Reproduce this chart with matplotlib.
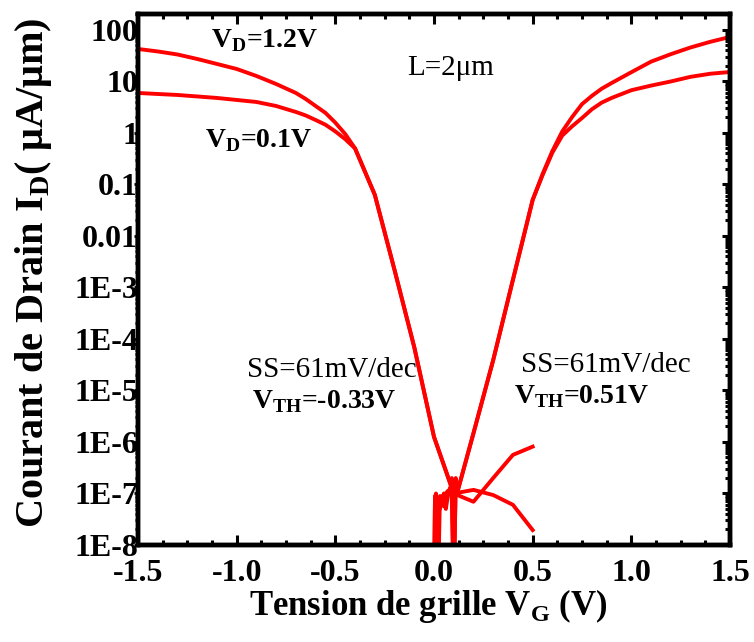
import numpy as np
import matplotlib
matplotlib.use("Agg")
import matplotlib.pyplot as plt
from matplotlib.ticker import FixedLocator, FixedFormatter, LogLocator, MultipleLocator, NullFormatter

# ---------------- data (log10 of drain current, uA/um) ----------------
vg_p = [-1.5, -1.4, -1.3, -1.2, -1.1, -1.0, -0.9, -0.8, -0.7, -0.65, -0.6, -0.55, -0.5, -0.45,
        -0.4, -0.3, -0.2, -0.1, 0.0, 0.1, 0.2, 0.3, 0.4, 0.5]
logid_p_vd12 = [1.631, 1.583, 1.524, 1.437, 1.340, 1.243, 1.107, 0.951, 0.777, 0.66, 0.524, 0.39, 0.20, -0.02,
                -0.30, -1.20, -2.66, -4.16, -5.90, -7.0, -7.16, -6.70, -6.25, -6.09]
logid_p_vd01 = [0.777, 0.757, 0.738, 0.709, 0.680, 0.641, 0.602, 0.524, 0.408, 0.34, 0.252, 0.16, 0.03, -0.12,
                -0.30, -1.20, -2.66, -4.16, -5.90, -7.0, -6.93, -7.03, -7.22, -7.71]

vg_n = [0.0, 0.005, 0.01, 0.02, 0.03, 0.04, 0.05, 0.06, 0.07, 0.08, 0.09, 0.1, 0.11, 0.12,
        0.2, 0.3, 0.4, 0.5, 0.55, 0.6, 0.65, 0.7, 0.75, 0.8, 0.85, 0.9, 1.0, 1.1, 1.2, 1.3, 1.4, 1.5]
logid_n_vd12 = [-9.0, -7.05, -9.0, -7.10, -7.30, -7.05, -7.25, -7.00, -6.95, -7.00, -6.70, -9.0, -6.70, -6.95,
                -5.83, -4.41, -2.85, -1.30, -0.80, -0.35, 0.03, 0.31, 0.56, 0.72, 0.86, 0.97,
                1.18, 1.385, 1.53, 1.66, 1.77, 1.864]
logid_n_vd01 = [-9.0, -7.10, -7.00, -9.0, -7.05, -7.20, -7.00, -7.30, -7.05, -6.90, -7.00, -9.0, -6.80, -6.95,
                -5.83, -4.41, -2.85, -1.30, -0.82, -0.38, -0.05, 0.13, 0.29, 0.46, 0.59, 0.68,
                0.83, 0.92, 1.00, 1.09, 1.15, 1.184]

ytick_vals = [1e-8, 1e-7, 1e-6, 1e-5, 1e-4, 1e-3, 1e-2, 1e-1, 1, 10, 100]
ytick_labels = ["1E-8", "1E-7", "1E-6", "1E-5", "1E-4", "1E-3", "0.01", "0.1", "1", "10", "100"]
xtick_vals = [-1.5, -1.0, -0.5, 0.0, 0.5, 1.0, 1.5]
xtick_labels = ["-1.5", "-1.0", "-0.5", "0.0", "0.5", "1.0", "1.5"]

# ---------------- style ----------------
plt.rcParams["font.family"] = ["Liberation Serif", "DejaVu Serif"]
plt.rcParams["mathtext.fontset"] = "custom"
plt.rcParams["mathtext.rm"] = "Liberation Serif"
plt.rcParams["mathtext.bf"] = "Liberation Serif:bold"

W, H = 754, 642
fig = plt.figure(figsize=(W / 100, H / 100), dpi=100)
L, R, T, B = 138, 730, 14, 545
ax = fig.add_axes([L / W, 1 - B / H, (R - L) / W, (B - T) / H])

red = "#ff0000"
lw = 2.8
for x, y in [(vg_p, logid_p_vd12), (vg_p, logid_p_vd01), (vg_n, logid_n_vd12), (vg_n, logid_n_vd01)]:
    ax.plot(x, 10.0 ** np.array(y), color=red, lw=lw)

ax.set_yscale("log")
ax.set_xlim(-1.5, 1.5)
ax.set_ylim(1e-8, 10 ** 2.31)

ax.xaxis.set_major_locator(FixedLocator(xtick_vals))
ax.xaxis.set_major_formatter(FixedFormatter(xtick_labels))
ax.xaxis.set_minor_locator(MultipleLocator(0.125))
ax.yaxis.set_major_locator(FixedLocator(ytick_vals))
ax.yaxis.set_major_formatter(FixedFormatter(ytick_labels))
ax.yaxis.set_minor_locator(LogLocator(base=10, subs=np.arange(2, 10), numticks=100))
ax.yaxis.set_minor_formatter(NullFormatter())

ax.tick_params(axis="x", which="both", direction="in", top=True, bottom=True, width=2.2)
ax.tick_params(axis="x", which="major", length=7, pad=10)
ax.tick_params(axis="x", which="minor", length=3.5)
ax.tick_params(axis="y", which="both", direction="out", left=True, right=False, width=2.0)
ax.tick_params(axis="y", which="major", length=3, pad=-3)
ax.tick_params(axis="y", which="minor", length=2.5)
for lab in ax.get_xticklabels() + ax.get_yticklabels():
    lab.set_fontsize(23)
    lab.set_fontweight("bold")

# right-side inward ticks
axr = ax.twinx()
axr.set_yscale("log")
axr.set_ylim(ax.get_ylim())
axr.yaxis.set_major_locator(FixedLocator(ytick_vals))
axr.yaxis.set_minor_locator(LogLocator(base=10, subs=np.arange(2, 10), numticks=100))
axr.yaxis.set_major_formatter(NullFormatter())
axr.yaxis.set_minor_formatter(NullFormatter())
axr.tick_params(axis="y", which="both", direction="in", right=True, left=False, width=2.2)
axr.tick_params(axis="y", which="major", length=6)
axr.tick_params(axis="y", which="minor", length=3.5)

for a in (ax, axr):
    for s in a.spines.values():
        s.set_linewidth(3.2)

# axis labels
fig.text(43 / W, 1 - 273 / H, r"Courant de Drain I$_\mathregular{D}$( μA/μm)", rotation=90,
         rotation_mode="anchor", ha="center", va="baseline", fontsize=29, fontweight="bold")
fig.text(428 / W, 1 - 615 / H, r"Tension de grille V$_\mathregular{G}$ (V)", ha="center",
         va="baseline", fontsize=25, fontweight="bold")

# annotations
def ftxt(px, py, s, weight="bold", size=20):
    fig.text(px / W, 1 - py / H, s, ha="left", va="baseline", fontsize=size, fontweight=weight)

ftxt(211, 47, r"V$_\mathregular{D}$=1.2V")
ftxt(205, 147, r"V$_\mathregular{D}$=0.1V")
ftxt(407, 75, "L=2μm", weight="normal", size=21)
ftxt(247, 377, "SS=61mV/dec", weight="normal", size=21)
ftxt(252, 408, r"V$_\mathregular{TH}$=-0.33V")
ftxt(521, 372, "SS=61mV/dec", weight="normal", size=21)
ftxt(514, 403, r"V$_\mathregular{TH}$=0.51V")

fig.savefig("out.png", dpi=100)
